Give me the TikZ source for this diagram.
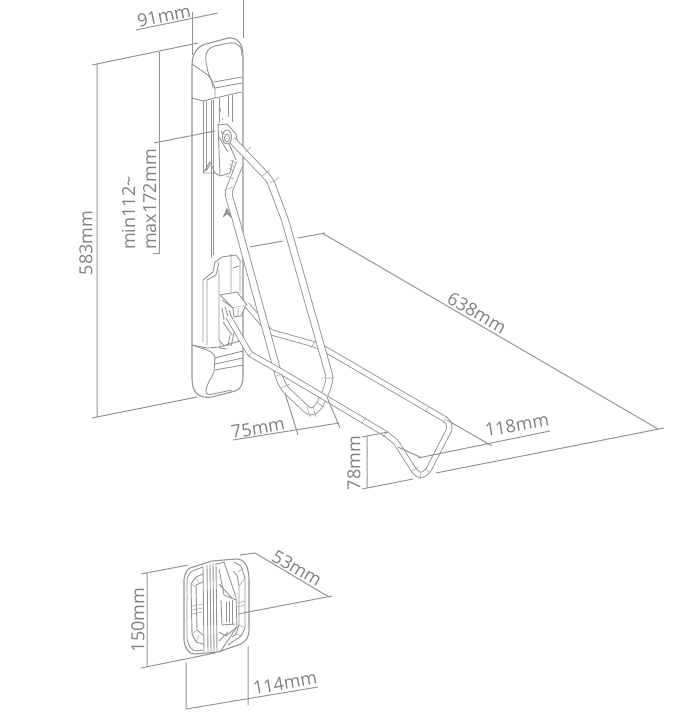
\documentclass[tikz,border=0pt]{standalone}
\usepackage{fontspec}
\setmainfont{Open Sans}
\usetikzlibrary{positioning}
\definecolor{dimgray}{gray}{0.58}
\definecolor{partgray}{gray}{0.58}
\definecolor{labelgray}{gray}{0.5}
\tikzset{
  dimline/.style={draw=dimgray, line width=1pt},
  partline/.style={draw=partgray, line width=0.9pt, line join=round},
  thinline/.style={draw=partgray!80, line width=0.6pt},
  tubeA/.style={draw=partgray, line width=0.9pt, double=white, double distance=6pt, rounded corners=4pt, line join=round},
  tubeB/.style={draw=partgray, line width=0.9pt, double=white, double distance=4.4pt, rounded corners=3pt, line join=round},
  dimlabel/.style={text=labelgray, font=\fontsize{18}{21}\selectfont, inner sep=0pt}
}
\begin{document}
\begin{tikzpicture}[x=1pt, y=-1pt]
\useasboundingbox (0,0) rectangle (683,722);

% Wall plate
\draw[partline, line width=1.1pt] (192,378) -- (192,66) .. controls (192,52) and (198,45) .. (210,43) -- (228,38) .. controls (238,37) and (243,44) .. (243,56) -- (243,376) .. controls (243,384) and (241,389) .. (235,391) -- (212,397) .. controls (198,399) and (192,392) .. (192,378);
% Top cap
\draw[partline] (207,67) .. controls (204,56) and (206,48) .. (215,46) -- (229,43) .. controls (238,42) and (242,46) .. (242,56);
\draw[partline] (207,67) .. controls (208,76) and (214,82) .. (215,90) -- (215,98);
\draw[partline] (192,64) -- (205,73) .. controls (210,76) and (212,80) .. (213,88);
\draw[partline] (192,98) -- (203,101) -- (215,98) -- (242,92);
\draw[partline] (214,82) -- (242,77) (215,88) -- (242,83);
% Rails
\draw[partline] (203,101) -- (203,173) (206,101) -- (206,171) (211,100) -- (211,258) (213,100) -- (213,255);
\draw[partline] (219,98) -- (219,123) (228,96) -- (228,117) (232,95) -- (232,122);
% Upper bracket
\draw[partline] (203,173) -- (210,162) -- (215,173) (206,171) -- (210,165);
\draw[partline] (203,173) -- (215,173) -- (220,176) -- (230,173) -- (233,160);
\draw[partline] (218,123) -- (220,175) (218,125) -- (227,124) -- (236,134) -- (239,148);
\draw[partline] (221,131) -- (230,146) -- (236,160) (219,137) -- (228,152);
\draw[thinline] (220,108) -- (220,112) (222,118) -- (222,120);
\draw[thinline] (230,160) -- (236,163) (229,164) -- (235,167) (229,168) -- (234,171);
% Arrow mark
\draw[partgray, fill=partgray] (223,217) -- (227,208) -- (232,218) -- (227,214) -- cycle;
% Lower bracket
\draw[partline] (203,342) -- (203,280) -- (213,272) -- (215,262) -- (222,257) -- (236,255) -- (241,262);
\draw[partline] (207,345) -- (207,280) -- (216,275) -- (219,262);
\draw[partline] (219,270) -- (219,340) -- (224,346) -- (230,343);
\draw[partline] (231,254) -- (231,293) (240,262) -- (240,293) (233,268) -- (239,266);
\draw[partline] (192,345) -- (207,348) -- (220,347) -- (243,340);
\draw[partline] (220,343) -- (220,348) -- (227,349);
% Bottom cap
\draw[partline] (243,351) -- (215,358) -- (214,372) .. controls (212,378) and (206,384) .. (206,391) .. controls (206,395) and (209,395) .. (213,394) -- (232,390);
\draw[partline] (215,364) -- (243,358) (215,370) -- (243,365);
\draw[partline] (192,345) -- (207,350) .. controls (212,352) and (214,354) .. (215,358);
% Clamp block
\draw[partline, fill=white] (220,295) -- (237,292) -- (247,305) -- (233,308) -- cycle;
\draw[partline, fill=white] (233,308) -- (234,317) -- (241,316) -- (246,305);
\draw[partline] (238,308) -- (238,316) (222,300) -- (233,308);
\draw[partline] (222,308) -- (224,320) (225,307) -- (230,322) (229,310) -- (236,330) (223,322) -- (232,335) (230,335) -- (228,346) (234,333) -- (231,346);

% Arm, upper branch of the long loop
\draw[tubeB] (247,305) -- (270,332) -- (313,344) -- (323,348) -- (448,421) -- (450,428) -- (428,471) -- (421,476) -- (415,472) -- (396,442) -- (386,434);
% Arm, short loop
\draw[tubeA] (232,140) -- (270,180) -- (285,220) -- (330,378) -- (326,392) -- (318,408) -- (311,413) -- (305,408) -- (284,388) -- (279,377) -- (236,220) -- (228,193) -- (240,163);
% Pivot
\draw[partline, fill=white] (227,137) circle[x radius=4.5, y radius=7];
\draw[partline] (227,138) circle[x radius=2.5, y radius=4];
% Arm, lower branch of the long loop
\draw[tubeB] (228,316) -- (250,354) -- (280,371) -- (386,434);
% Tube joints
\draw[thinline] (245,152) -- (251,147) (262,176) -- (270,170) (270,183) -- (279,178);
\draw[thinline] (224,190) -- (233,187) (226,176) -- (234,179);
\draw[thinline] (322,378) -- (334,378) (316,402) -- (324,407) (307,406) -- (310,417) (313,407) -- (316,417);
\draw[thinline] (281,388) -- (290,384) (276,376) -- (283,374);
\draw[thinline] (362,423) -- (366,417) (425,412) -- (429,406) (447,417) -- (443,423);
\draw[thinline] (387,431) -- (383,437) (311,348) -- (315,341) (248,357) -- (253,352);
\draw[thinline] (412,471) -- (418,467) (420,479) -- (421,472) (430,473) -- (425,468);

% Dimensions of the arm and wall plate
\draw[dimline] (136,30) -- (218,13);
\draw[dimline] (192,12) -- (192,55) (243,0) -- (243,38);
\draw[dimline] (92,65) -- (198,43) (97,64) -- (97,417) -- (197,397) (92,418) -- (97,417);
\draw[dimline] (159,52) -- (159,253) -- (153,253);
\draw[dimline] (154,143) -- (215,131);
\draw[dimline] (250,247) -- (283,241) (298,238) -- (325,233) (322,233) -- (658,429) (664,428) -- (436,473);
\draw[dimline] (447,420) -- (492,446) (418,458) -- (550,431);
\draw[dimline] (398,447) -- (422,458);
\draw[dimline] (233,440) -- (339,423) (285,393) -- (298,435) (327,397) -- (340,428);
\draw[dimline] (362,437) -- (388,432) (367,436) -- (367,488) (362,489) -- (413,479);

\node[dimlabel, rotate=12] (wplate) at (164,16) {91mm};
\node[dimlabel, rotate=90] (height) at (86,243) {583mm};
\node[dimlabel, rotate=90, align=left, anchor=west] (slots) at (139,250) {min112\textasciitilde\\max172mm};
\node[dimlabel, rotate=-30] (depth) at (477,313) {638mm};
\node[dimlabel, rotate=10] (loopw) at (258,428) {75mm};
\node[dimlabel, rotate=10] (endw) at (517,425) {118mm};
\node[dimlabel, rotate=90] (endh) at (354,463) {78mm};

% Small bracket
\draw[partline, line width=1.1pt] (184,580) .. controls (185,571) and (188,568) .. (193,567) -- (212,561) -- (236,559) .. controls (245,559) and (249,566) .. (249,582) -- (249,628) .. controls (249,638) and (246,641) .. (241,644) -- (218,652) -- (195,654) .. controls (188,654) and (185,648) .. (184,640) -- cycle;
\draw[partline] (187,582) .. controls (187,574) and (191,571) .. (195,570) -- (203,567) (187,582) -- (187,638) .. controls (188,646) and (191,650) .. (196,651) -- (203,650);
\draw[partline] (191,584) -- (196,577) -- (203,574) (191,584) -- (192,634) -- (196,642) -- (203,644);
\draw[partline] (196,585) -- (203,582) (196,585) -- (197,630) -- (203,635);
\draw[thinline] (191,584) -- (196,587) (192,634) -- (197,630) (196,577) -- (199,583) (196,642) -- (199,635);
\draw[thinline] (192,606) -- (203,604) (192,610) -- (203,608) (192,614) -- (203,612);
\draw[partline] (203,566) -- (204,652) (207,565) -- (208,652) (210,564) -- (211,652) (213,563) -- (214,652) (216,563) -- (217,652);
\draw[partline] (217,564) -- (224,562) -- (236,597) -- (237,627) -- (220,652);
\draw[partline] (219,569) -- (224,595) -- (236,600);
\draw[partline] (219,584) -- (232,598) (221,600) -- (222,625) -- (235,624);
\draw[partline] (226,602) -- (226,622) (229,601) -- (229,623) (232,600) -- (232,625);
\draw[partline] (219,632) -- (226,636) -- (237,627) (219,641) -- (228,632);
\draw[partline] (234,562) -- (241,566) -- (245,578) -- (245,628) -- (241,636) -- (228,645);
\draw[partline] (233,571) -- (237,575) -- (239,586) -- (239,625) -- (236,634) -- (232,637);
\draw[thinline] (238,572) -- (243,568) (239,586) -- (245,578) (236,634) -- (241,636) (239,625) -- (245,628);
\draw[thinline] (237,603) -- (245,601) (237,607) -- (245,605);

% Dimensions of the small bracket
\draw[dimline] (141,574) -- (188,565) (147,573) -- (147,667) (141,668) -- (215,653);
\draw[dimline] (240,555) -- (255,553) -- (329,597);
\draw[dimline] (238,614) -- (332,596);
\draw[dimline] (186,662) -- (186,709) -- (318,687) (248,646) -- (248,705);

\node[dimlabel, rotate=90] (baseh) at (138,620) {150mm};
\node[dimlabel, rotate=-30] (based) at (297,568) {53mm};
\node[dimlabel, rotate=10] (basew) at (285,683) {114mm};
\end{tikzpicture}
\end{document}
